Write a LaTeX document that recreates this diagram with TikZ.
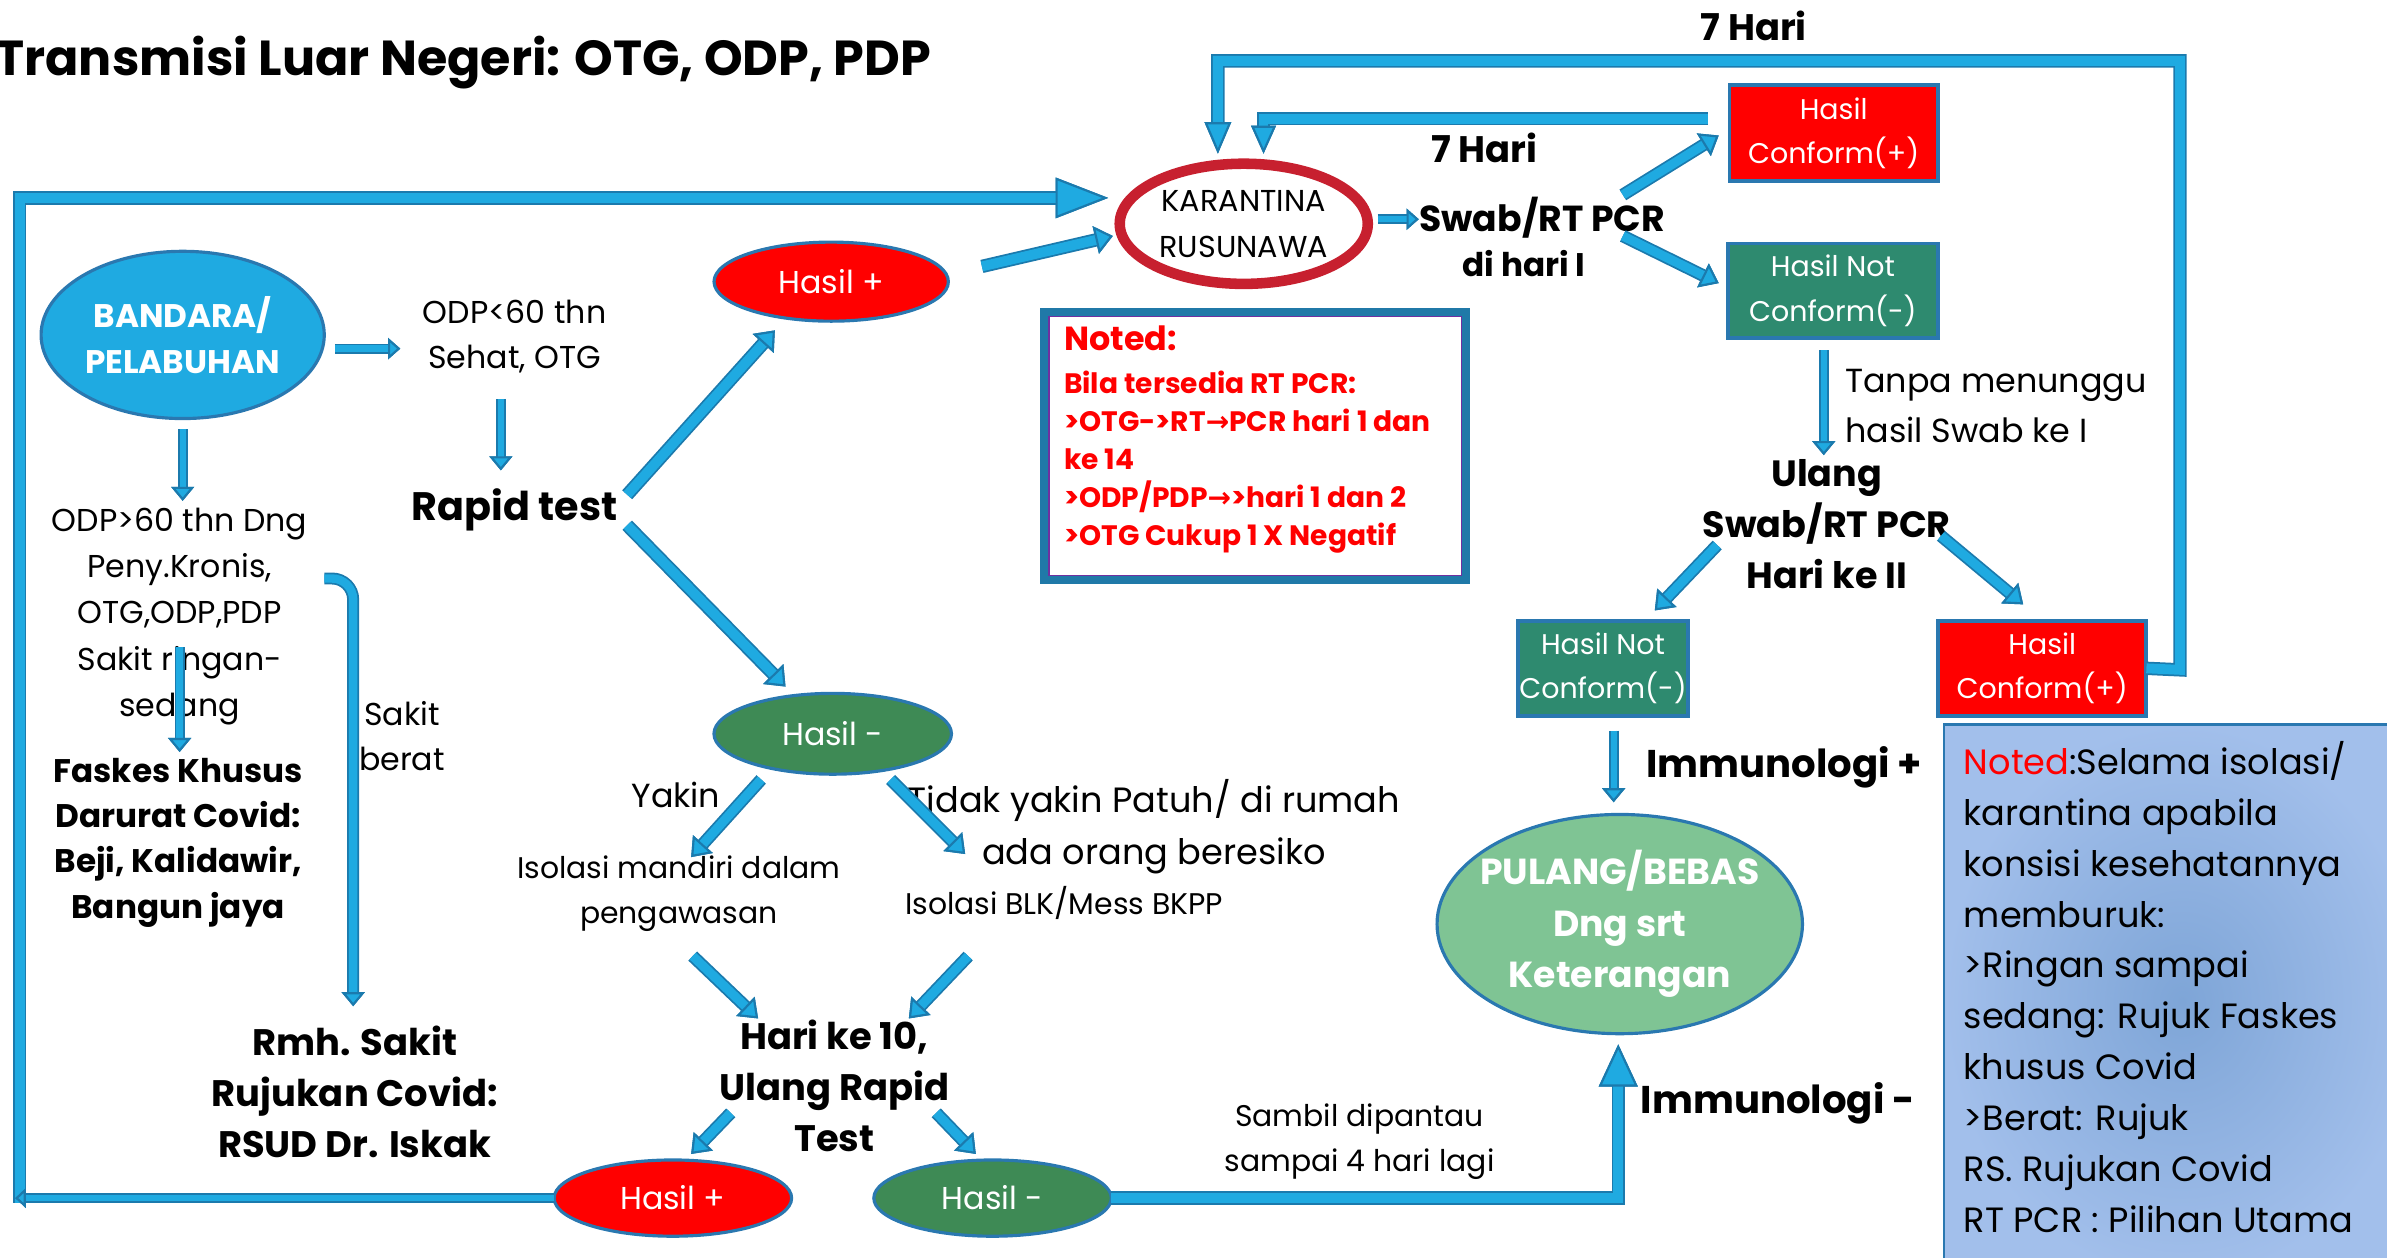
\documentclass[tikz,border=0pt]{standalone}
\usepackage{fontspec}
\setmainfont{Poppins}
\newfontfamily\dejavu{DejaVu Sans}
\usetikzlibrary{shapes.geometric,arrows.meta}
\definecolor{alight}{HTML}{1FAAE1}
\definecolor{adark}{HTML}{1B7AAD}
\definecolor{bred}{HTML}{FF0000}
\definecolor{dgreen}{HTML}{3E8A55}
\definecolor{tealbox}{HTML}{2E8A6F}
\definecolor{lgreen}{HTML}{7FC494}
\definecolor{kred}{HTML}{C7202F}
\definecolor{bord}{HTML}{2A78B0}
\definecolor{nblue}{HTML}{A2BFEB}
\definecolor{nbluec}{HTML}{7EA5D7}
\definecolor{nborder}{HTML}{2079A8}
\definecolor{npurple}{HTML}{7030A0}
\newcommand\fz[2]{\fontsize{#1}{#2}\selectfont}
\newcommand\flow[4]{%
  \draw[draw=adark, line width=#1+1pt, line join=miter, -{Triangle[length=#2,width=#3,line width=0.6pt]}] #4;
  \draw[draw=alight, line width=#1, line join=miter, -{Triangle[length=#2,width=#3,fill=alight,color=adark,line width=0.6pt]}] #4;}
\begin{document}
\begin{tikzpicture}[x=0.015223cm,y=-0.015223cm,
  every node/.style={inner sep=0pt, outer sep=0pt},
  txt/.style={align=center},
  ell/.style={ellipse, draw=bord, line width=0.9pt, text=white, align=center},
  box/.style={rectangle, draw=bord, line width=1.1pt, text=white, align=center},
  boxfont/.style={font=\fz{8.1}{12.6}},
]
\useasboundingbox (0,0) rectangle (1568,826);

% ---------- background notes ----------
\shade[inner color=nbluec, outer color=nblue] (1277,476) rectangle (1590,840);
\draw[bord, line width=0.8pt] (1277,840) -- (1277,476) -- (1590,476);
\node[anchor=north west, align=left, font=\fz{10}{14.47}] (note2) at (1290,487)
 {{\color{bred}Noted}:Selama isolasi/\\karantina apabila\\konsisi kesehatannya\\memburuk:\\>Ringan sampai\\sedang: Rujuk Faskes\\khusus Covid\\>Berat: Rujuk\\RS. Rujukan Covid\\RT PCR : Pilihan Utama};

\draw[nborder, line width=2.2pt, fill=white] (686,205) rectangle (963,381);
\draw[npurple, line width=0.4pt] (689,208) rectangle (960,378);
\node[anchor=north west, align=left, text=bred, font=\fz{8}{10.8}\bfseries] (note1) at (699,214)
 {{\fz{9.5}{10.8}Noted:}\\[1.5pt]Bila tersedia RT PCR:\\>OTG->RT{\dejavu\bfseries →}PCR hari 1 dan\\ke 14\\>ODP/PDP{\dejavu\bfseries →}>hari 1 dan 2\\>OTG Cukup 1 X Negatif};

% ---------- title ----------
\node[anchor=west, font=\fz{14}{17}\bfseries] (title) at (-3,41) {Transmisi Luar Negeri: OTG, ODP, PDP};
\node[font=\fz{10.5}{13}\bfseries] (top7) at (1152,17) {7 Hari};

% ---------- shapes ----------
\node[ell, fill=alight, minimum width=80.6pt, minimum height=47.6pt, font=\fz{9.3}{13}\bfseries] (band) at (120,220) {BANDARA/\\PELABUHAN};
\node[ell, fill=bred, minimum width=66.7pt, minimum height=22.5pt, font=\fz{9}{12}] (hplus1) at (546,185) {Hasil +};
\node[ellipse, draw=kred, line width=3pt, fill=white, minimum width=70.6pt, minimum height=34.2pt, align=center, font=\fz{8.6}{13}] (kar) at (817,147) {KARANTINA\\RUSUNAWA};
\node[ell, fill=dgreen, minimum width=67.6pt, minimum height=23pt, font=\fz{9}{12}] (hmin1) at (547,482) {Hasil -};
\node[ell, fill=bred, minimum width=67.6pt, minimum height=21.7pt, font=\fz{9}{12}] (hplus2) at (442,787) {Hasil +};
\node[ell, fill=dgreen, minimum width=67.6pt, minimum height=21.7pt, font=\fz{9}{12}] (hmin2) at (652,787) {Hasil -};
\node[ell, fill=lgreen, minimum width=104pt, minimum height=62.4pt] (pulang) at (1064,607) {};
\node[txt, text=white, font=\fz{10.3}{14.7}\bfseries] (pulangtxt) at (pulang.center) {PULANG/BEBAS\\Dng srt\\Keterangan};

\node[box, fill=bred, minimum width=59.3pt, minimum height=27.3pt, boxfont] (hc1) at (1204.5,87.5) {Hasil\\Conform(+)};
\node[box, fill=tealbox, minimum width=59.8pt, minimum height=26.9pt, boxfont] (hnc1) at (1204,191) {Hasil Not\\Conform(-)};
\node[box, fill=tealbox, minimum width=48.5pt, minimum height=26.9pt, boxfont] (hnc2) at (1053,439) {Hasil Not\\Conform(-)};
\node[box, fill=bred, minimum width=59.3pt, minimum height=26.9pt, boxfont] (hc2) at (1341.5,439) {Hasil\\Conform(+)};

% ---------- texts ----------
\node[txt, font=\fz{9}{13}] (odp60) at (338,221) {ODP<60 thn\\Sehat, OTG};
\node[txt, font=\fz{11.3}{14}\bfseries] (rapid) at (338,335) {Rapid test};
\node[txt, font=\fz{9}{13.2}] (odp60b) at (118,405) {ODP>60 thn Dng\\Peny.Kronis,\\OTG,ODP,PDP\\Sakit ringan-\\sedang};
\node[txt, font=\fz{9.3}{12.9}\bfseries] (faskes) at (117,553.5) {Faskes Khusus\\Darurat Covid:\\Beji, Kalidawir,\\Bangun jaya};
\node[txt, font=\fz{9}{12.6}] (berat) at (264,483.5) {Sakit\\berat};
\node[txt, font=\fz{10.5}{14.5}\bfseries] (rmh) at (233,717.5) {Rmh. Sakit\\Rujukan Covid:\\RSUD Dr. Iskak};
\node[txt, font=\fz{9.5}{13}] (yakin) at (444,522) {Yakin};
\node[txt, font=\fz{8.5}{13}] (isoM) at (446,587) {Isolasi mandiri dalam\\pengawasan};
\node[txt, font=\fz{10}{14.7}] (tidak) at (758,543) {Tidak yakin Patuh/ di rumah\\ada orang beresiko};
\node[txt, font=\fz{8.5}{13}] (isoB) at (699,593) {Isolasi BLK/Mess BKPP};
\node[txt, font=\fz{10.5}{14.5}\bfseries] (hari10) at (548,713.5) {Hari ke 10,\\Ulang Rapid\\Test};
\node[txt, font=\fz{8.5}{13}] (sambil) at (893,750) {Sambil dipantau\\sampai 4 hari lagi};
\node[txt, font=\fz{11}{14}\bfseries] (immP) at (1172,504) {Immunologi +};
\node[txt, font=\fz{11}{14}\bfseries] (immM) at (1168,725) {Immunologi -};
\node[txt, font=\fz{10.4}{14.5}\bfseries] (ulang) at (1200,344.5) {Ulang\\Swab/RT PCR\\Hari ke II};
\node[anchor=west, align=left, font=\fz{9.5}{14.3}] (tanpa) at (1212,266.5) {Tanpa menunggu\\hasil Swab ke I};
\node[txt, font=\fz{10.3}{14}\bfseries] (swab) at (1013,143) {Swab/RT PCR};
\node[txt, font=\fz{9.3}{12}\bfseries] (dihari) at (1001,173) {di hari I};
\node[txt, font=\fz{10.5}{13}\bfseries] (h7b) at (975,97) {7 Hari};

% ---------- connector end points ----------
\coordinate (c1a) at (220,229); \coordinate (c1b) at (263,229);
\coordinate (c2a) at (329,262); \coordinate (c2b) at (329,309);
\coordinate (c3a) at (412,325); \coordinate (c3b) at (509,217);
\coordinate (c4a) at (645,175); \coordinate (c4b) at (731,155);
\coordinate (c5a) at (412,345); \coordinate (c5b) at (516,451);
\coordinate (c6a) at (13,790); \coordinate (c6b) at (728,130);
\coordinate (c7b) at (10,787);
\coordinate (c8a) at (120,282); \coordinate (c8b) at (120,329);
\coordinate (c9a) at (118,425); \coordinate (c9b) at (118,494);
\coordinate (c10a) at (213,380); \coordinate (c10b) at (232,661);
\coordinate (c11a) at (500,512); \coordinate (c11b) at (454,563);
\coordinate (c12a) at (585,512); \coordinate (c12b) at (634,561);
\coordinate (c13a) at (455,628); \coordinate (c13b) at (498,669);
\coordinate (c14a) at (636,628); \coordinate (c14b) at (597,669);
\coordinate (c15a) at (480,731); \coordinate (c15b) at (454,758);
\coordinate (c16a) at (615,731); \coordinate (c16b) at (641,758);
\coordinate (c17b) at (1063,686);
\coordinate (c18a) at (1060,480); \coordinate (c18b) at (1060,527);
\coordinate (c19a) at (1128,358); \coordinate (c19b) at (1087,401);
\coordinate (c20a) at (1275,352); \coordinate (c20b) at (1329,397);
\coordinate (c21a) at (1198,230); \coordinate (c21b) at (1198,299);
\coordinate (c22a) at (905,144); \coordinate (c22b) at (932,144);
\coordinate (c23a) at (1066,128); \coordinate (c23b) at (1129,89);
\coordinate (c24a) at (1066,155); \coordinate (c24b) at (1129,186);
\coordinate (c25a) at (1122,78); \coordinate (c25b) at (830,101);
\coordinate (c26b) at (800,101);

% ---------- connectors ----------
\flow{1.8pt}{3.5pt}{6pt}{(c1a) -- (c1b)}
\flow{1.8pt}{4pt}{6.5pt}{(c2a) -- (c2b)}
\flow{2.8pt}{5pt}{8pt}{(c3a) -- (c3b)}
\flow{2.8pt}{5pt}{8pt}{(c4a) -- (c4b)}
\flow{2.8pt}{5pt}{8pt}{(c5a) -- (c5b)}
\flow{2.8pt}{15pt}{11.5pt}{(c6a) -- (13,130) -- (c6b)}
\flow{1.8pt}{3pt}{5.5pt}{(hplus2.west) -- (c7b)}
\flow{1.8pt}{4pt}{6.5pt}{(c8a) -- (c8b)}
\flow{1.8pt}{4pt}{6.5pt}{(c9a) -- (c9b)}
\flow{2.4pt}{4pt}{6.5pt}{[rounded corners=6pt] (c10a) -- (232,380) -- (c10b)}
\flow{2.6pt}{5pt}{7.5pt}{(c11a) -- (c11b)}
\flow{2.6pt}{5pt}{7.5pt}{(c12a) -- (c12b)}
\flow{2.6pt}{5pt}{7.5pt}{(c13a) -- (c13b)}
\flow{2.6pt}{5pt}{7.5pt}{(c14a) -- (c14b)}
\flow{2.6pt}{5pt}{7.5pt}{(c15a) -- (c15b)}
\flow{2.6pt}{5pt}{7.5pt}{(c16a) -- (c16b)}
\flow{2.8pt}{12pt}{11pt}{(hmin2.east) -- (1063,787) -- (c17b)}
\flow{1.8pt}{4pt}{6.5pt}{(c18a) -- (c18b)}
\flow{2.6pt}{5pt}{7.5pt}{(c19a) -- (c19b)}
\flow{2.6pt}{5pt}{7.5pt}{(c20a) -- (c20b)}
\flow{1.8pt}{4pt}{6.5pt}{(c21a) -- (c21b)}
\flow{1.8pt}{3.5pt}{6pt}{(c22a) -- (c22b)}
\flow{2.6pt}{5pt}{7.5pt}{(c23a) -- (c23b)}
\flow{2.6pt}{5pt}{7.5pt}{(c24a) -- (c24b)}
\flow{2.8pt}{8pt}{7pt}{(c25a) -- (830,78) -- (c25b)}
\flow{2.8pt}{9pt}{7.5pt}{(hc2.east) -- (1432,440) -- (1432,40) -- (800,40) -- (c26b)}
\end{tikzpicture}
\end{document}
